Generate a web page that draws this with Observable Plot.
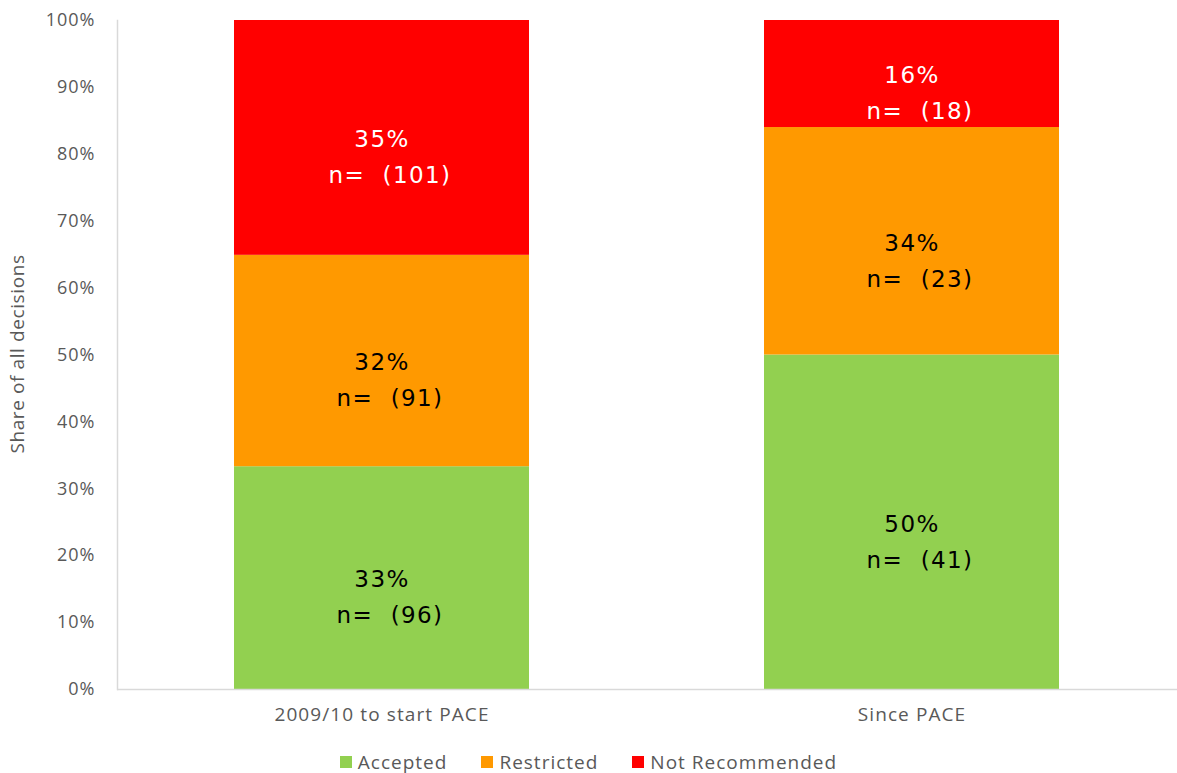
<!DOCTYPE html>
<html>
<head>
<meta charset="utf-8">
<script src="https://cdn.jsdelivr.net/npm/d3@7"></script>
<script src="https://cdn.jsdelivr.net/npm/@observablehq/plot@0.6"></script>
<style>
  html, body { margin: 0; padding: 0; background: #fff; }
  #chart { width: 1177px; }
  .legend { display: flex; justify-content: center; gap: 34px; font-family: "Open Sans", sans-serif; font-size: 19px; color: #595959; margin-left: 0px; margin-top: 9px; letter-spacing: 1px; }
  .legend span.item { display: flex; align-items: center; }
  .legend span.sw { display: inline-block; width: 12px; height: 12px; margin-right: 6px; }
</style>
</head>
<body>
<div id="chart"></div>
<script>
const periods = ["2009/10 to start PACE", "Since PACE"];
const decisions = ["Accepted", "Restricted", "Not Recommended"];
const colors = ["#92d050", "#ff9900", "#ff0000"];
const shares = {
  "Accepted": [33.3, 50],
  "Restricted": [31.6, 34],
  "Not Recommended": [35.1, 16]
};
const pctLabels = {
  "Accepted": ["33%", "50%"],
  "Restricted": ["32%", "34%"],
  "Not Recommended": ["35%", "16%"]
};
const counts = {
  "Accepted": [96, 41],
  "Restricted": [91, 23],
  "Not Recommended": [101, 18]
};
const yTicks = [0, 10, 20, 30, 40, 50, 60, 70, 80, 90, 100];

const rows = [];
periods.forEach((p, i) => {
  let base = 0;
  decisions.forEach(d => {
    const v = shares[d][i];
    rows.push({period: p, decision: d, value: v, y1: base, y2: base + v,
      mid: base + v / 2, pct: pctLabels[d][i], n: `n=\u00a0 (${counts[d][i]})`,
      textColor: d === "Not Recommended" ? "white" : "black"});
    base += v;
  });
});

const chart = Plot.plot({
  width: 1177,
  height: 740,
  marginLeft: 117,
  marginRight: 0,
  marginTop: 20,
  marginBottom: 51,
  style: {fontFamily: "'Open Sans', sans-serif", background: "white"},
  x: {domain: periods, paddingInner: 0.443, paddingOuter: 0.2215, label: null},
  y: {domain: [0, 100], label: null},
  color: {domain: decisions, range: colors},
  marks: [
    Plot.barY(rows, {x: "period", y1: "y1", y2: "y2", fill: "decision"}),
    Plot.ruleY([0], {stroke: "#d9d9d9", strokeWidth: 1.5}),
    Plot.frame({anchor: "left", stroke: "#d9d9d9", strokeWidth: 1.5}),
    Plot.text(rows, {x: "period", y: "mid", text: "pct", fill: "textColor", dy: 2, dx: 0,
      fontFamily: "'DejaVu Sans', Verdana, sans-serif", fontSize: 23, className: "barlab"}),
    Plot.text(rows, {x: "period", y: "mid", text: "n", fill: "textColor", dy: 38, dx: 8,
      fontFamily: "'DejaVu Sans', Verdana, sans-serif", fontSize: 23, className: "barlab"}),
    Plot.axisY({ticks: yTicks, tickSize: 0, tickPadding: 22, tickFormat: d => d + "%", label: null,
      fontSize: 18, fill: "#595959", className: "ylab"}),
    Plot.axisX({tickSize: 0, tickPadding: 18, label: null, fontSize: 19, fill: "#595959", className: "xlab"})
  ]
});
const svg = d3.select(chart);
svg.selectAll('.barlab text').style("letter-spacing", "1.4px");
svg.selectAll('.ylab text').style("letter-spacing", "1px");
svg.selectAll('.xlab text').style("letter-spacing", "1.1px");
svg.append("text")
  .attr("transform", "translate(24,354) rotate(-90)")
  .attr("text-anchor", "middle")
  .attr("font-family", "'Open Sans', sans-serif")
  .attr("font-size", 19)
  .attr("fill", "#595959")
  .style("letter-spacing", "0.6px")
  .text("Share of all decisions");
document.getElementById("chart").append(chart);

const legend = document.createElement("div");
legend.className = "legend";
decisions.forEach((d, i) => {
  const item = document.createElement("span");
  item.className = "item";
  const sw = document.createElement("span");
  sw.className = "sw";
  sw.style.background = colors[i];
  item.append(sw, document.createTextNode(d));
  legend.append(item);
});
document.getElementById("chart").append(legend);
</script>
</body>
</html>
